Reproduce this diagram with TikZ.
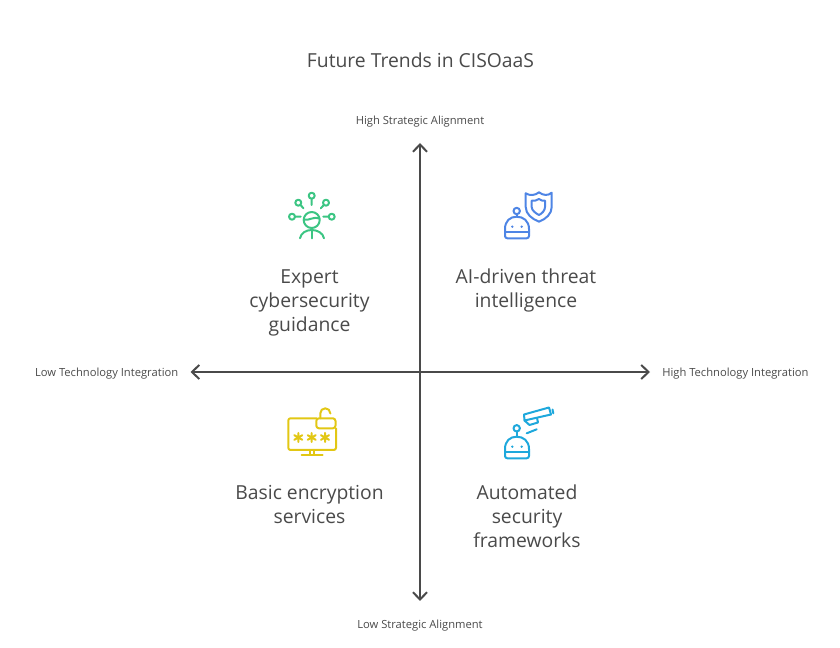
\documentclass[tikz,border=0pt]{standalone}
\usepackage{fontspec}
\setmainfont{Open Sans}
\usetikzlibrary{arrows.meta}
\definecolor{ink}{HTML}{4A4A4A}
\definecolor{mint}{HTML}{3CC583}
\definecolor{azure}{HTML}{4E85E5}
\definecolor{sun}{HTML}{E2C714}
\definecolor{sky}{HTML}{1EA8DC}
\tikzset{
    axisline/.style={draw=ink,line width=1.5pt,{Straight Barb[length=5.5pt,width=10.5pt]}-{Straight Barb[length=5.5pt,width=10.5pt]}},
    heading/.style={text=ink,font=\fontsize{14.5}{18}\selectfont},
    quad/.style={text=ink,font=\fontsize{14.5}{18}\selectfont,inner sep=0pt},
    axislabel/.style={text=ink,font=\fontsize{8.4}{12}\selectfont,inner sep=0pt},
    icon/.style={line width=1.5pt,line cap=round,line join=round}
}
% #1 vertical shift, #2 colour, #3 antenna centre
\newcommand{\robot}[3]{%
    \draw[icon,#2] (505,#1+236) -- (505,#1+229) .. controls (505,#1+221) and (510,#1+216.7) .. (516.7,#1+216.7)
        .. controls (523.5,#1+216.7) and (529,#1+221) .. (529,#1+229) -- (529,#1+236) arc (0:90:2.3) -- (507.3,#1+238.3) arc (90:180:2.3);
    \draw[icon,#2] (505,#1+231.7) -- (529,#1+231.7);
    \draw[icon,#2] (516.7,#1+216.7) -- (516.7,#3+3);
    \draw[icon,#2] (516.7,#3) circle (3.2);
    \fill[#2] (512.3,#1+226.7) circle (1.3) (521.7,#1+226.7) circle (1.3);
}
\newcommand{\aster}[1]{\draw[icon,sun] (#1,433) -- (#1,442) (#1-4,435.2) -- (#1+4,439.8) (#1-4,439.8) -- (#1+4,435.2);}
\begin{document}
\begin{tikzpicture}[x=0.75pt,y=-0.75pt]
    \useasboundingbox (0,0) rectangle (840,648);

    \node[heading] (T) at (420.5,60) {Future Trends in CISOaaS};

    \node[axislabel] (N) at (420,121.5) {High Strategic Alignment};
    \node[axislabel] (S) at (420,625.5) {Low Strategic Alignment};
    \node[axislabel,anchor=east] (W) at (178.5,373.5) {Low Technology Integration};
    \node[axislabel,anchor=west] (E) at (662,373.5) {High Technology Integration};

    \node[quad] (A) at (309.5,302.5) {\begin{tabular}{c}Expert\\ cybersecurity\\ guidance\end{tabular}};
    \node[quad] (B) at (526,290.5) {\begin{tabular}{c}AI-driven threat\\ intelligence\end{tabular}};
    \node[quad] (C) at (309.5,506.5) {\begin{tabular}{c}Basic encryption\\ services\end{tabular}};
    \node[quad] (D) at (527,518.5) {\begin{tabular}{c}Automated\\ security\\ frameworks\end{tabular}};

    \coordinate (Ytop) at (420,143);
    \coordinate (Ybot) at (420,601);
    \coordinate (Xlft) at (190.5,372);
    \coordinate (Xrgt) at (650,372);
    \draw[axisline] (Ytop) to (Ybot);
    \draw[axisline] (Xlft) to (Xrgt);

    % expert
    \draw[icon,mint] (311.7,220) circle (8);
    \draw[icon,mint] (304,219.5) .. controls (309,221) and (314,216) .. (319.5,218.5);
    \draw[icon,mint] (300,238.3) .. controls (301,233) and (306,230) .. (311.7,230) .. controls (317.5,230) and (323,233) .. (324,238.3);
    \draw[icon,mint] (311.7,230) -- (311.7,238.3);
    \foreach \x/\y in {311.7/195.7, 298.3/202.7, 326/202.7, 292/216.7, 331.7/216.7}
        \draw[icon,mint] (\x,\y) circle (3);
    \draw[icon,mint] (311.7,199) -- (311.7,205) (300.5,205) -- (303.5,208.3) (323.8,205) -- (320.8,208.3) (295,216.7) -- (300.7,216.7) (328.7,216.7) -- (323.3,216.7);

    % threat
    \robot{0}{azure}{211}
    \draw[icon,azure] (525.7,193.3) .. controls (530,196) and (535,195.5) .. (539,192.3) .. controls (543,195.5) and (548,196) .. (551.7,192.7)
        -- (551.7,207) .. controls (551.7,214) and (546,219) .. (539,221.7) .. controls (532,219) and (525.7,214) .. (525.7,207) -- cycle;
    \draw[icon,azure] (531.7,200.7) .. controls (534,201) and (537,200.5) .. (539,199) .. controls (541,200.5) and (543,201) .. (545,200.7)
        -- (545,207) .. controls (545,210.5) and (542,213.5) .. (539,215) .. controls (536,213.5) and (531.7,210.5) .. (531.7,207) -- cycle;

    % encryption
    \draw[icon,sun] (316.7,418.3) -- (290.5,418.3) arc (-90:-180:2.2) -- (288.3,447.8) arc (180:90:2.2) -- (333.8,450) arc (90:0:2.2) -- (336,428.3);
    \draw[icon,sun,rounded corners=2pt] (316.3,418.3) rectangle (335.5,428.3);
    \draw[icon,sun] (320.3,418.3) -- (320.3,413.3) arc (180:360:5) -- (330.3,413.5);
    \draw[icon,sun] (310,450) -- (310,455) (314.3,450) -- (314.3,455) (301.7,455) -- (322.7,455);
    \foreach \x in {298.3,311.7,325} { \aster{\x} }

    % automated
    \robot{220}{sky}{428.3}
    \draw[icon,sky] (524,414.5) -- (549,407.5) -- (551,414.5) -- (524.5,420.5) -- cycle;
    \draw[icon,sky] (524.5,420.5) -- (529.5,425) -- (538,422.5) -- (537,418);
    \draw[icon,sky] (552.5,409.5) -- (553.3,413.3);
    \draw[icon,sky] (526.7,433.3) -- (536.7,429.3);
\end{tikzpicture}
\end{document}
